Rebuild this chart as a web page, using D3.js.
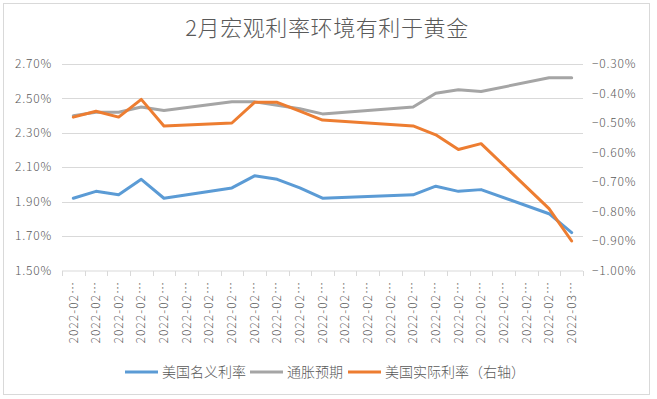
<!DOCTYPE html>
<html>
<head>
<meta charset="utf-8">
<script src="https://cdn.jsdelivr.net/npm/d3@7"></script>
<style>
  body { margin: 0; background: #fff; }
  text { font-family: "Noto Sans CJK SC", "DejaVu Sans", sans-serif; font-weight: 300; }
</style>
</head>
<body>
<div id="chart"></div>
<script>
// trading days shown on a daily date axis (weekends / holiday left empty)
var dates = ["2022-02-07","2022-02-08","2022-02-09","2022-02-10","2022-02-11","2022-02-12",
  "2022-02-13","2022-02-14","2022-02-15","2022-02-16","2022-02-17","2022-02-18","2022-02-19",
  "2022-02-20","2022-02-21","2022-02-22","2022-02-23","2022-02-24","2022-02-25","2022-02-26",
  "2022-02-27","2022-02-28","2022-03-01"];

// 美国名义利率 (left axis, %)
var nominal = [1.92, 1.96, 1.94, 2.03, 1.92, null, null, 1.98, 2.05, 2.03, 1.98, 1.92,
  null, null, null, 1.94, 1.99, 1.96, 1.97, null, null, 1.83, 1.72];
// 通胀预期 (left axis, %)
var inflation = [2.40, 2.42, 2.42, 2.45, 2.43, null, null, 2.48, 2.48, 2.46, 2.44, 2.41,
  null, null, null, 2.45, 2.53, 2.55, 2.54, null, null, 2.62, 2.62];
// 美国实际利率 (right axis, %)
var real = [-0.48, -0.46, -0.48, -0.42, -0.51, null, null, -0.50, -0.43, -0.43, -0.46, -0.49,
  null, null, null, -0.51, -0.54, -0.59, -0.57, null, null, -0.79, -0.90];

var leftTicks = [1.5, 1.7, 1.9, 2.1, 2.3, 2.5, 2.7];
var rightTicks = [-1.0, -0.9, -0.8, -0.7, -0.6, -0.5, -0.4, -0.3];

var title = "2月宏观利率环境有利于黄金";
var seriesNames = ["美国名义利率", "通胀预期", "美国实际利率（右轴）"];

drawChart();

function drawChart() {
  var W = 657, H = 399;
  var svg = d3.select("#chart").append("svg").attr("width", W).attr("height", H);

  var plotLeft = 62, plotRight = 583, plotTop = 64, plotBottom = 270.5;
  var textColor = "#595959", gridColor = "#d9d9d9";

  svg.append("rect")
    .attr("x", 3.5).attr("y", 3.5).attr("width", 646).attr("height", 391)
    .attr("fill", "#fff").attr("stroke", gridColor);

  svg.append("text")
    .attr("x", 327).attr("y", 36)
    .attr("text-anchor", "middle")
    .attr("font-size", "22px")
    .attr("letter-spacing", "0.6px")
    .attr("fill", textColor)
    .text(title);

  var x = d3.scaleBand().domain(dates).range([plotLeft, plotRight]).padding(0);
  var yL = d3.scaleLinear().domain([1.5, 2.7]).range([plotBottom, plotTop]);
  var yR = d3.scaleLinear().domain([-1.0, -0.3]).range([plotBottom, plotTop]);

  var fmt = d3.format(".2f");

  // gridlines
  svg.append("g").selectAll("line")
    .data(leftTicks.slice(1))
    .enter().append("line")
    .attr("x1", plotLeft).attr("x2", plotRight)
    .attr("y1", function(d){ return Math.round(yL(d)) + 0.5; })
    .attr("y2", function(d){ return Math.round(yL(d)) + 0.5; })
    .attr("stroke", gridColor);

  // left axis labels
  svg.append("g").selectAll("text")
    .data(leftTicks)
    .enter().append("text")
    .attr("x", 52).attr("y", function(d){ return yL(d); })
    .attr("dy", "0.35em")
    .attr("text-anchor", "end")
    .attr("font-size", "12px")
    .attr("letter-spacing", "0.8px")
    .attr("fill", textColor)
    .text(function(d){ return fmt(d) + "%"; });

  // right axis labels
  svg.append("g").selectAll("text")
    .data(rightTicks)
    .enter().append("text")
    .attr("x", 592).attr("y", function(d){ return yR(d); })
    .attr("dy", "0.35em")
    .attr("text-anchor", "start")
    .attr("font-size", "12px")
    .attr("letter-spacing", "0.8px")
    .attr("fill", textColor)
    .text(function(d){ return "\u2212" + fmt(-d) + "%"; });

  // bottom axis with ticks between categories
  var xAxis = svg.append("g");
  xAxis.append("line")
    .attr("x1", plotLeft).attr("x2", plotRight)
    .attr("y1", 271).attr("y2", 271)
    .attr("stroke", gridColor);
  var edges = dates.map(function(d){ return x(d); }).concat([plotRight]);
  xAxis.selectAll(".tick")
    .data(edges)
    .enter().append("line")
    .attr("x1", function(d){ return Math.round(d) + 0.5; })
    .attr("x2", function(d){ return Math.round(d) + 0.5; })
    .attr("y1", 271).attr("y2", 276)
    .attr("stroke", gridColor);
  xAxis.selectAll("text")
    .data(dates)
    .enter().append("text")
    .attr("transform", function(d){
      return "translate(" + (x(d) + x.bandwidth() / 2) + ",281) rotate(-90)";
    })
    .attr("dy", "0.35em")
    .attr("text-anchor", "end")
    .attr("font-size", "12px")
    .attr("letter-spacing", "1px")
    .attr("fill", textColor)
    .text(function(d){ return d.slice(0, 7) + "…"; });

  // series lines, connected across empty days
  var colors = ["#5B9BD5", "#A5A5A5", "#ED7D31"];
  var series = [
    { values: nominal, y: yL },
    { values: inflation, y: yL },
    { values: real, y: yR }
  ];
  series.forEach(function(s, i) {
    var pts = dates.map(function(d, j){ return { d: d, v: s.values[j] }; })
      .filter(function(p){ return p.v !== null; });
    var line = d3.line()
      .x(function(p){ return x(p.d) + x.bandwidth() / 2; })
      .y(function(p){ return s.y(p.v); });
    svg.append("path")
      .datum(pts)
      .attr("d", line)
      .attr("fill", "none")
      .attr("stroke", colors[i])
      .attr("stroke-width", 3)
      .attr("stroke-linejoin", "round")
      .attr("stroke-linecap", "round");
  });

  // legend
  var legendX = [125, 250, 348];
  var legend = svg.append("g").selectAll("g")
    .data(seriesNames)
    .enter().append("g")
    .attr("transform", function(d, i){ return "translate(" + legendX[i] + ",372)"; });
  legend.append("line")
    .attr("x1", 0).attr("x2", 33)
    .attr("stroke", function(d, i){ return colors[i]; })
    .attr("stroke-width", 3);
  legend.append("text")
    .attr("x", 37).attr("dy", "0.35em")
    .attr("font-size", "14px")
    .attr("fill", textColor)
    .text(function(d){ return d; });
}
</script>
</body>
</html>
